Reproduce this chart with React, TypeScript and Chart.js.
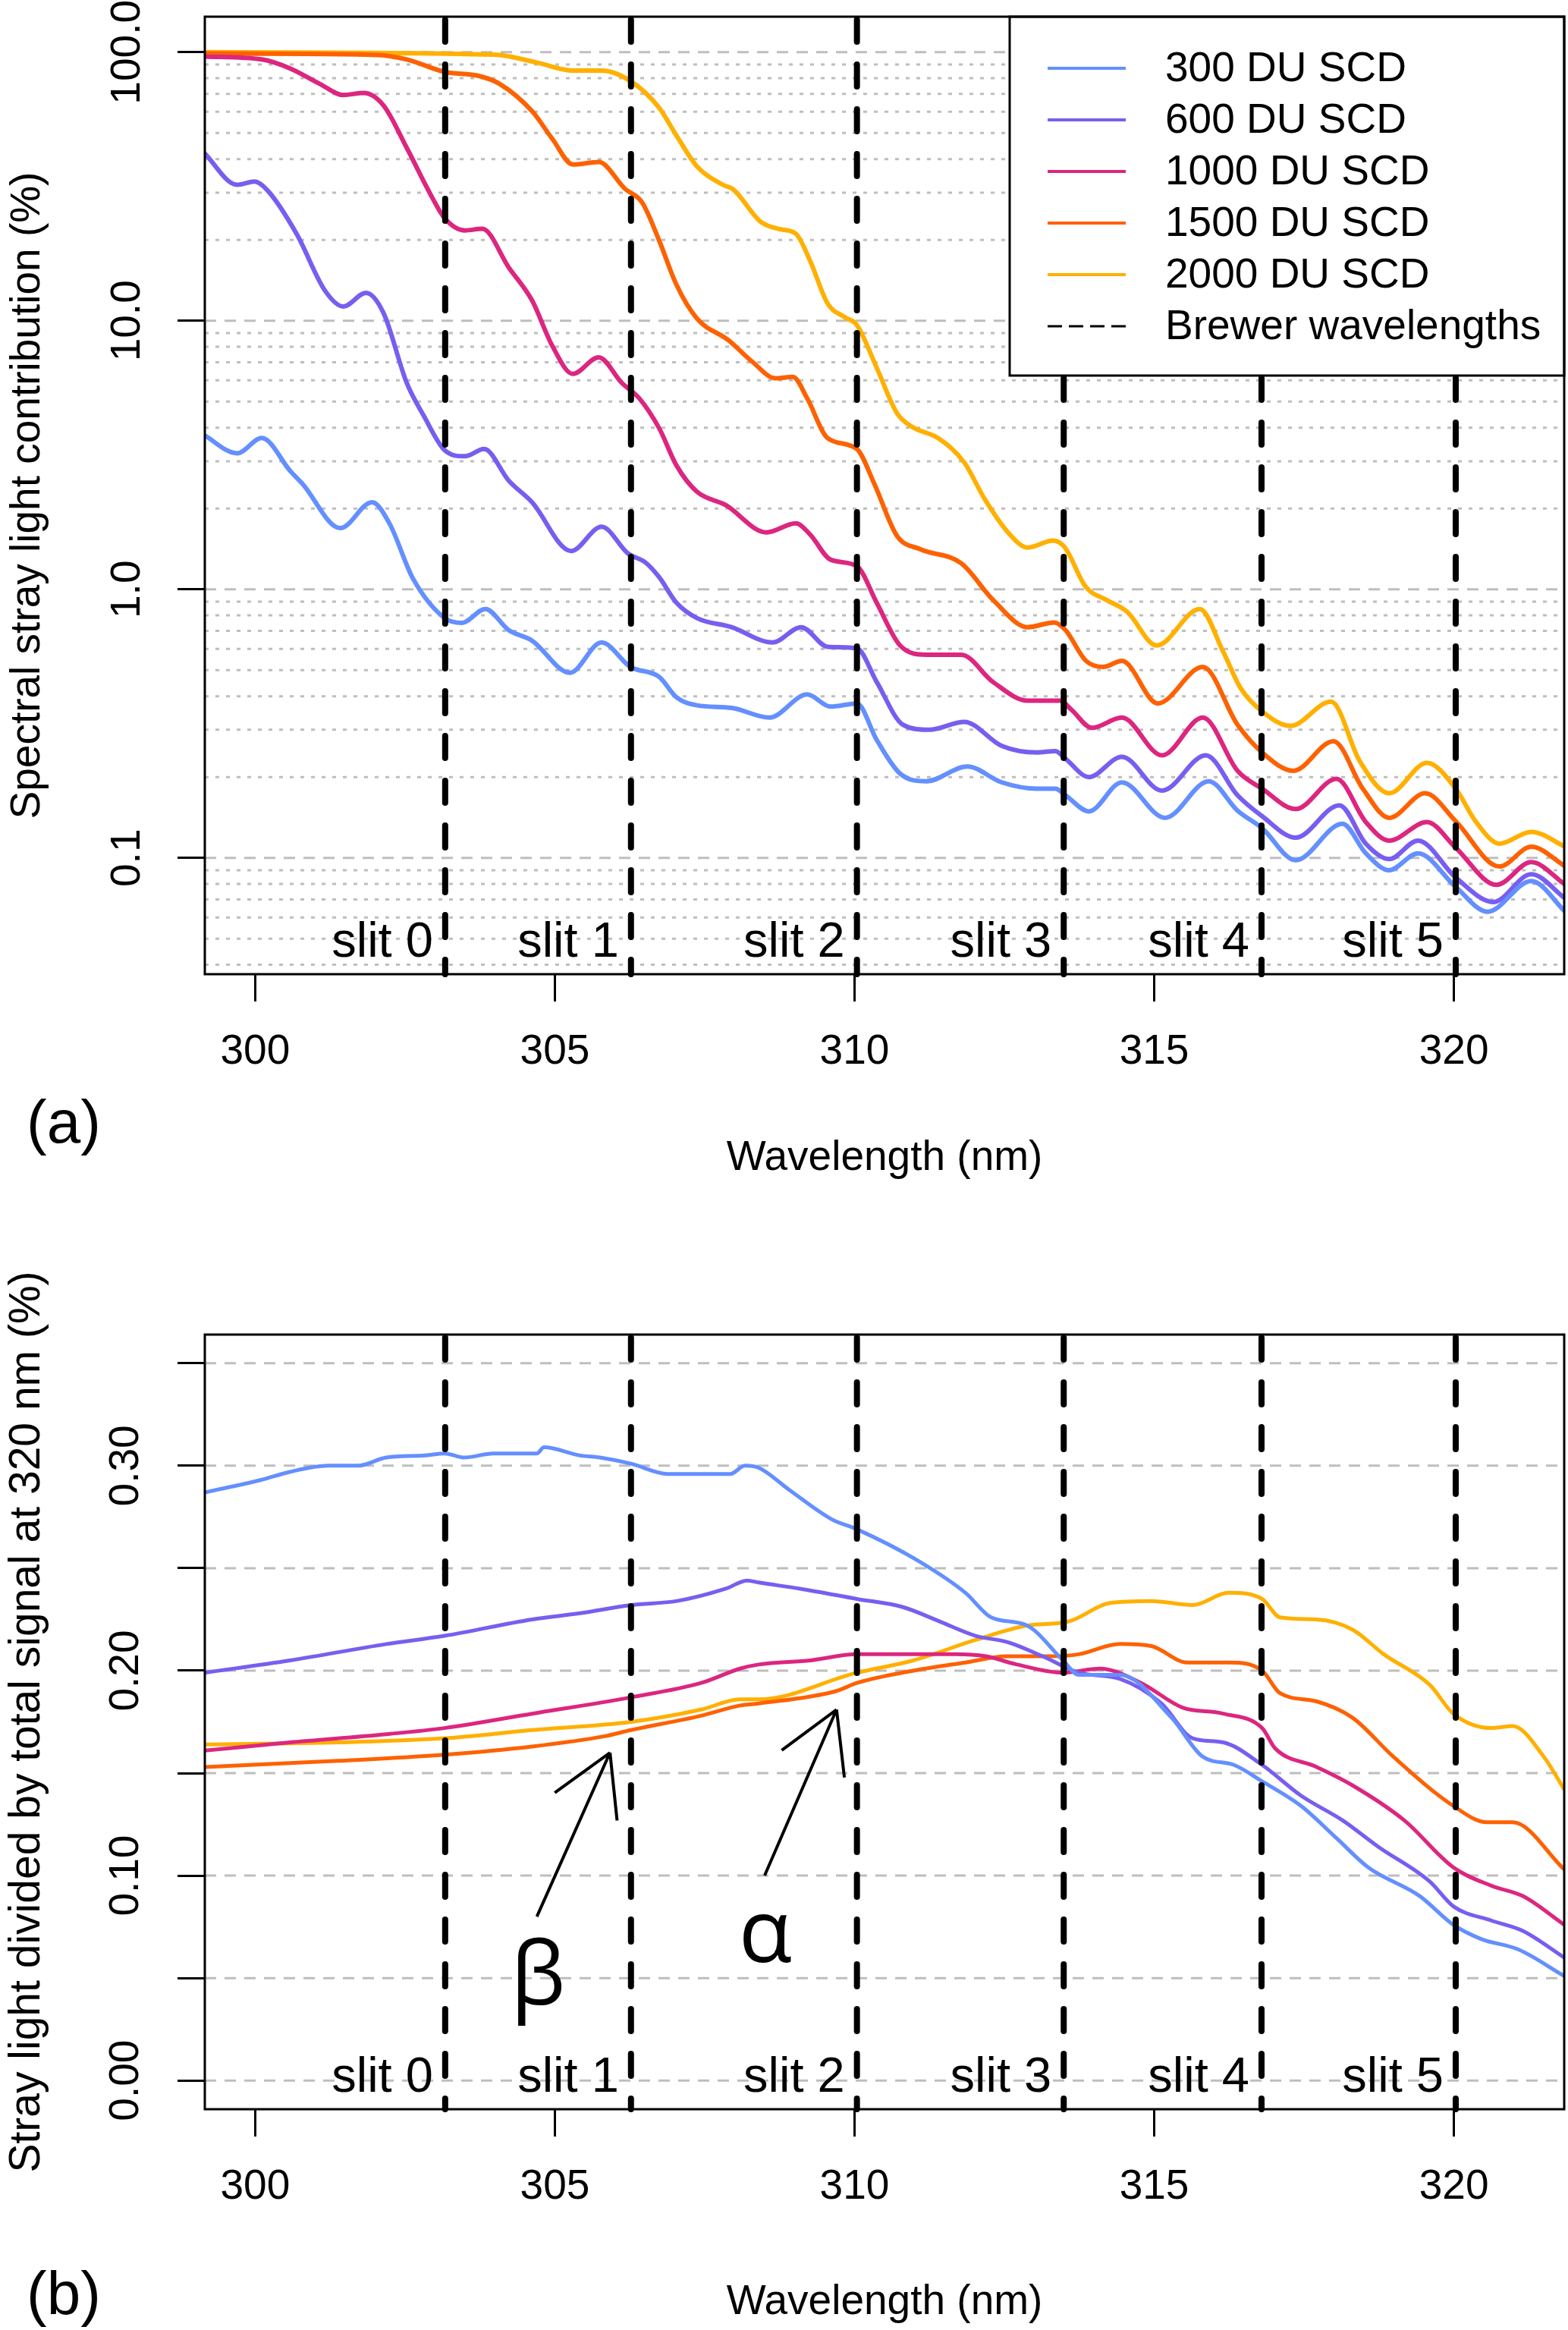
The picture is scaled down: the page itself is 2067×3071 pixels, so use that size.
import { useEffect, useRef } from "react"
import { Chart, registerables } from "chart.js"

Chart.register(...registerables)

const FONT = "'Liberation Sans', Arial, Helvetica, sans-serif"
const GREEK_FONT = "'Open Sans', 'DejaVu Sans', sans-serif"
const PAGE_W = 2067
const TOP_H = 1560
const BOTTOM_H = 1511

const seriesLabels = ["300 DU SCD", "600 DU SCD", "1000 DU SCD", "1500 DU SCD", "2000 DU SCD"]
const seriesColors = ["#648FFF", "#785EF0", "#DC267F", "#FE6100", "#FFB000"]

// Brewer slit wavelengths (nm)
const brewerWl = [303.17, 306.27, 310.04, 313.49, 316.79, 320.03]
const slitLabels = ["slit 0", "slit 1", "slit 2", "slit 3", "slit 4", "slit 5"]

const xRange = [299.16, 321.84]
const xTicks = [300, 305, 310, 315, 320]

// ---- panel (a): spectral stray light contribution (%) ----
const yRangeA = [0.0369, 135.6]
const yTicksA = [0.1, 1, 10, 100]
const yTickLabelsA = ["0.1", "1.0", "10.0", "100.0"]
const gridMajorA = [0.1, 1, 10, 100]
const gridMinorA = [
  0.04, 0.05, 0.06, 0.07, 0.08, 0.09,
  0.2, 0.3, 0.4, 0.5, 0.6, 0.7, 0.8, 0.9,
  2, 3, 4, 5, 6, 7, 8, 9,
  20, 30, 40, 50, 60, 70, 80, 90,
]

const wlA300 = [299.14, 299.7, 300.11, 300.59, 300.79, 301.42, 301.95, 302.24, 302.63, 303.16, 303.45, 303.84, 304.23, 304.62, 305.25, 305.78, 306.26, 306.74, 307.03, 307.37, 307.95, 308.58, 309.21, 309.6, 310.04, 310.37, 310.76, 311.2, 311.88, 312.46, 313.04, 313.35, 313.52, 313.91, 314.46, 315.18, 315.91, 316.39, 316.8, 317.36, 318.14, 318.53, 318.92, 319.4, 320.03, 320.56, 321.29, 321.86]
const valA300 = [3.76, 3.21, 3.66, 2.75, 2.47, 1.69, 2.11, 1.76, 1.1, 0.782, 0.75, 0.845, 0.705, 0.644, 0.489, 0.634, 0.514, 0.472, 0.396, 0.37, 0.362, 0.333, 0.406, 0.366, 0.376, 0.275, 0.206, 0.193, 0.219, 0.191, 0.181, 0.181, 0.171, 0.149, 0.191, 0.141, 0.193, 0.15, 0.129, 0.098, 0.134, 0.104, 0.09, 0.104, 0.078, 0.063, 0.082, 0.063]

const wlA600 = [299.14, 299.7, 299.99, 300.21, 300.69, 301.17, 301.47, 301.85, 302.14, 302.53, 302.82, 303.16, 303.5, 303.82, 304.23, 304.62, 305.27, 305.78, 306.22, 306.51, 306.74, 307.03, 307.37, 307.95, 308.63, 309.11, 309.55, 310.04, 310.37, 310.81, 311.25, 311.83, 312.46, 313.04, 313.35, 313.52, 313.91, 314.46, 315.13, 315.86, 316.39, 316.8, 317.36, 318.09, 318.53, 318.92, 319.4, 320.03, 320.66, 321.29, 321.86]
const valA600 = [42.4, 32.1, 33.0, 30.5, 21.1, 12.9, 11.3, 12.7, 10.7, 5.86, 4.4, 3.3, 3.13, 3.33, 2.54, 2.11, 1.39, 1.71, 1.36, 1.26, 1.11, 0.891, 0.782, 0.723, 0.634, 0.723, 0.611, 0.603, 0.452, 0.313, 0.3, 0.321, 0.261, 0.247, 0.25, 0.234, 0.2, 0.238, 0.178, 0.241, 0.171, 0.143, 0.119, 0.157, 0.113, 0.099, 0.116, 0.0845, 0.0685, 0.0869, 0.0705]

const wlA1000 = [299.14, 300.11, 300.59, 301.08, 301.47, 301.81, 302.14, 302.53, 302.92, 303.16, 303.5, 303.79, 304.23, 304.62, 304.96, 305.3, 305.73, 306.12, 306.41, 306.74, 307.03, 307.37, 307.85, 308.53, 309.02, 309.26, 309.6, 310.04, 310.37, 310.76, 311.2, 311.78, 312.31, 312.89, 313.43, 313.62, 313.96, 314.46, 315.13, 315.81, 316.39, 316.8, 317.36, 318.04, 318.53, 318.92, 319.55, 320.03, 320.71, 321.29, 321.86]
const valA1000 = [96.4, 94.0, 86.9, 76.2, 69.3, 70.5, 63.4, 44.0, 29.7, 24.1, 21.7, 22.0, 15.8, 11.9, 8.04, 6.34, 7.31, 5.86, 5.14, 3.98, 2.89, 2.31, 2.06, 1.63, 1.76, 1.6, 1.29, 1.22, 0.891, 0.618, 0.571, 0.571, 0.452, 0.385, 0.385, 0.356, 0.305, 0.333, 0.241, 0.333, 0.211, 0.181, 0.152, 0.197, 0.136, 0.116, 0.136, 0.109, 0.0794, 0.0964, 0.0794]

const wlA1500 = [299.14, 302.05, 302.53, 303.16, 303.74, 304.08, 304.62, 304.96, 305.3, 305.73, 306.17, 306.46, 306.74, 307.03, 307.37, 307.9, 308.29, 308.68, 308.97, 309.21, 309.55, 310.04, 310.33, 310.71, 311.1, 311.78, 312.31, 312.89, 313.33, 313.52, 313.86, 314.15, 314.46, 315.06, 315.81, 316.39, 316.8, 317.32, 317.99, 318.48, 318.92, 319.52, 320.03, 320.76, 321.29, 321.86]
const valA1500 = [98.9, 97.7, 94.0, 84.5, 81.5, 76.2, 60.3, 47.5, 38.2, 39.0, 31.0, 27.5, 19.9, 13.6, 10.2, 8.45, 7.05, 6.11, 6.18, 5.14, 3.66, 3.33, 2.47, 1.58, 1.41, 1.25, 0.914, 0.723, 0.753, 0.705, 0.542, 0.514, 0.542, 0.376, 0.514, 0.313, 0.247, 0.211, 0.272, 0.181, 0.141, 0.174, 0.137, 0.0929, 0.11, 0.0929]

const wlA2000 = [299.14, 303.99, 304.71, 305.3, 305.78, 306.26, 306.74, 307.03, 307.37, 307.8, 307.98, 308.43, 308.77, 309.02, 309.26, 309.55, 309.84, 310.04, 310.37, 310.71, 310.96, 311.39, 311.83, 312.17, 312.56, 312.89, 313.31, 313.5, 313.86, 314.2, 314.55, 315.04, 315.76, 316.15, 316.44, 316.8, 317.27, 317.95, 318.43, 318.92, 319.55, 320.03, 320.37, 320.76, 321.29, 321.86]
const valA2000 = [100, 98.0, 91.4, 85.5, 85.5, 78.2, 62.1, 48.9, 37.6, 32.1, 30.8, 23.4, 21.9, 21.1, 16.7, 11.6, 10.3, 9.64, 6.68, 4.52, 4.03, 3.66, 2.97, 2.17, 1.63, 1.43, 1.52, 1.44, 1.02, 0.914, 0.824, 0.618, 0.845, 0.586, 0.429, 0.351, 0.31, 0.382, 0.229, 0.174, 0.226, 0.181, 0.136, 0.113, 0.125, 0.11]

// ---- panel (b): stray light / total signal at 320 nm (%) ----
const yRangeB = [-0.014, 0.364]
const yTicksB = [0, 0.05, 0.1, 0.15, 0.2, 0.25, 0.3, 0.35]
const yTickLabelsB = ["0.00", "", "0.10", "", "0.20", "", "0.30", ""]
const gridB = [0, 0.05, 0.1, 0.15, 0.2, 0.25, 0.3, 0.35]

const wlB300 = [299.16, 300.09, 300.58, 301.22, 301.71, 302.19, 302.84, 303.16, 303.49, 303.97, 304.7, 304.82, 305.42, 305.75, 306.27, 306.88, 307.44, 307.93, 308.17, 308.4, 308.92, 309.61, 310.04, 310.98, 311.85, 312.28, 312.88, 313.48, 313.74, 314.43, 315.29, 315.81, 316.33, 316.8, 317.45, 318.05, 318.57, 319.43, 319.99, 320.46, 321.07, 321.84]
const valB300 = [0.287, 0.293, 0.297, 0.3, 0.3, 0.304, 0.305, 0.306, 0.304, 0.306, 0.306, 0.309, 0.305, 0.304, 0.301, 0.296, 0.296, 0.296, 0.3, 0.299, 0.288, 0.274, 0.269, 0.255, 0.238, 0.226, 0.222, 0.205, 0.198, 0.198, 0.177, 0.158, 0.154, 0.146, 0.134, 0.118, 0.104, 0.09, 0.076, 0.069, 0.064, 0.051]

const wlB600 = [299.16, 300.58, 302.19, 303.16, 304.62, 305.42, 306.27, 307.04, 307.85, 308.21, 308.4, 309.09, 310.04, 310.81, 311.42, 312.02, 312.54, 313.14, 313.74, 314.43, 315.12, 315.64, 316.15, 316.8, 317.45, 318.14, 318.74, 319.6, 319.99, 320.63, 321.15, 321.84]
const valB600 = [0.199, 0.205, 0.213, 0.217, 0.225, 0.228, 0.232, 0.234, 0.24, 0.244, 0.243, 0.24, 0.235, 0.231, 0.224, 0.217, 0.214, 0.207, 0.199, 0.196, 0.184, 0.167, 0.165, 0.154, 0.139, 0.127, 0.114, 0.097, 0.085, 0.078, 0.073, 0.06]

const wlB1000 = [299.16, 300.58, 302.19, 303.16, 304.62, 306.27, 307.44, 308.09, 308.4, 309.26, 310.04, 310.81, 311.67, 312.19, 312.71, 313.48, 314.09, 314.78, 315.47, 316.15, 316.8, 317.02, 317.71, 318.31, 319.17, 319.99, 320.63, 321.15, 321.84]
const valB1000 = [0.161, 0.165, 0.169, 0.172, 0.179, 0.187, 0.194, 0.201, 0.203, 0.205, 0.208, 0.208, 0.208, 0.207, 0.203, 0.199, 0.201, 0.194, 0.182, 0.179, 0.172, 0.162, 0.153, 0.144, 0.127, 0.104, 0.095, 0.09, 0.076]

const wlB1500 = [299.16, 301.39, 303.16, 304.62, 305.83, 306.27, 307.44, 308.09, 308.4, 309.69, 310.04, 310.98, 311.85, 312.54, 313.23, 313.74, 314.43, 314.95, 315.55, 316.24, 316.8, 317.1, 317.71, 318.31, 318.99, 319.99, 320.55, 320.98, 321.84]
const valB1500 = [0.153, 0.156, 0.159, 0.163, 0.168, 0.171, 0.178, 0.183, 0.184, 0.19, 0.194, 0.2, 0.204, 0.207, 0.207, 0.208, 0.213, 0.212, 0.204, 0.204, 0.2, 0.189, 0.185, 0.177, 0.158, 0.134, 0.126, 0.126, 0.103]

const wlB2000 = [299.16, 301.39, 303.16, 304.62, 306.27, 307.44, 308.09, 308.4, 310.04, 310.98, 312.02, 312.88, 313.57, 314.26, 314.95, 315.64, 316.24, 316.8, 317.1, 317.71, 318.31, 318.83, 319.6, 319.99, 320.63, 320.98, 321.5, 321.84]
const valB2000 = [0.164, 0.165, 0.167, 0.171, 0.175, 0.181, 0.186, 0.186, 0.199, 0.205, 0.215, 0.222, 0.224, 0.233, 0.234, 0.232, 0.238, 0.235, 0.226, 0.225, 0.22, 0.208, 0.193, 0.179, 0.172, 0.173, 0.158, 0.142]

// annotation arrows in panel (b): [x0, y0, x1, y1] in data units
const arrowsB = [
  [304.7, 0.08, 305.92, 0.16],
  [308.5, 0.1, 309.7, 0.181],
]
const greekB = ["β", "α"]
const greekPosB = [
  [304.72, 0.037],
  [308.51, 0.058],
]

type Decor = {
  gridMajor: number[]
  gridMinor: number[]
  slitY: number
  legend: boolean
  panelLabel: string
  panelLabelY: number
  arrows?: number[][]
  greek?: string[]
  greekPos?: number[][]
}

function decorPlugin(d: Decor) {
  return {
    id: "decor",
    beforeDatasetsDraw(chart: any) {
      const { ctx, chartArea: a } = chart
      const ys = chart.scales.y
      ctx.save()
      ctx.strokeStyle = "#BEBEBE"
      ctx.lineWidth = 3
      ctx.setLineDash([5, 9])
      for (const v of d.gridMinor) {
        const py = ys.getPixelForValue(v)
        ctx.beginPath()
        ctx.moveTo(a.left, py)
        ctx.lineTo(a.right, py)
        ctx.stroke()
      }
      ctx.setLineDash([15, 11])
      for (const v of d.gridMajor) {
        const py = ys.getPixelForValue(v)
        ctx.beginPath()
        ctx.moveTo(a.left, py)
        ctx.lineTo(a.right, py)
        ctx.stroke()
      }
      ctx.restore()
    },
    afterDatasetsDraw(chart: any) {
      const { ctx, chartArea: a } = chart
      const xs = chart.scales.x
      const ys = chart.scales.y
      ctx.save()

      // Brewer wavelengths
      ctx.strokeStyle = "#000"
      ctx.lineWidth = 8
      ctx.lineCap = "round"
      ctx.setLineDash([29, 30])
      for (const w of brewerWl) {
        const px = xs.getPixelForValue(w)
        ctx.beginPath()
        ctx.moveTo(px, a.top + 4)
        ctx.lineTo(px, a.bottom)
        ctx.stroke()
      }
      ctx.setLineDash([])
      ctx.lineCap = "butt"

      // slit labels
      ctx.fillStyle = "#000"
      ctx.font = `65px ${FONT}`
      ctx.textAlign = "right"
      ctx.textBaseline = "middle"
      brewerWl.forEach((w, i) => {
        ctx.fillText(slitLabels[i], xs.getPixelForValue(w) - 16, ys.getPixelForValue(d.slitY))
      })

      // arrows and greek letters
      if (d.arrows) {
        ctx.lineWidth = 4
        ctx.strokeStyle = "#000"
        for (const [x0, y0, x1, y1] of d.arrows) {
          const p0x = xs.getPixelForValue(x0)
          const p0y = ys.getPixelForValue(y0)
          const p1x = xs.getPixelForValue(x1)
          const p1y = ys.getPixelForValue(y1)
          const ang = Math.atan2(p1y - p0y, p1x - p0x)
          ctx.beginPath()
          ctx.moveTo(p0x, p0y)
          ctx.lineTo(p1x, p1y)
          for (const s of [-1, 1]) {
            const t = ang + Math.PI + (s * Math.PI) / 6
            ctx.moveTo(p1x, p1y)
            ctx.lineTo(p1x + 90 * Math.cos(t), p1y + 90 * Math.sin(t))
          }
          ctx.stroke()
        }
      }
      if (d.greek && d.greekPos) {
        ctx.font = `115px ${GREEK_FONT}`
        ctx.textAlign = "center"
        ctx.textBaseline = "alphabetic"
        d.greek.forEach((g, i) => {
          const [gx, gy] = d.greekPos![i]
          ctx.fillText(g, xs.getPixelForValue(gx), ys.getPixelForValue(gy))
        })
      }

      // legend box inside the plot, top right
      if (d.legend) {
        const lw = 731
        const lh = 473
        const lx = a.right - lw
        const ly = a.top
        ctx.fillStyle = "#fff"
        ctx.fillRect(lx, ly, lw, lh)
        ctx.strokeStyle = "#000"
        ctx.lineWidth = 3
        ctx.strokeRect(lx, ly, lw, lh)
        const rows = [...seriesLabels, "Brewer wavelengths"]
        ctx.font = `55px ${FONT}`
        ctx.textAlign = "left"
        ctx.textBaseline = "middle"
        rows.forEach((label, i) => {
          const ry = ly + 68 * (i + 1)
          ctx.beginPath()
          ctx.lineWidth = i < 5 ? 4 : 3
          ctx.strokeStyle = i < 5 ? seriesColors[i] : "#000"
          ctx.setLineDash(i < 5 ? [] : [19, 9])
          ctx.moveTo(lx + 50, ry)
          ctx.lineTo(lx + 153, ry)
          ctx.stroke()
          ctx.setLineDash([])
          ctx.fillStyle = "#000"
          ctx.fillText(label, lx + 205, ry + 2)
        })
      }

      // plot box
      ctx.strokeStyle = "#000"
      ctx.lineWidth = 3
      ctx.strokeRect(a.left, a.top, a.right - a.left, a.bottom - a.top)
      ctx.restore()
    },
    afterDraw(chart: any) {
      const { ctx } = chart
      ctx.save()
      ctx.fillStyle = "#000"
      ctx.font = `80px ${FONT}`
      ctx.textAlign = "center"
      ctx.textBaseline = "middle"
      ctx.fillText(d.panelLabel, 84, d.panelLabelY)
      ctx.restore()
    },
  }
}

function makeDatasets(wls: number[][], vals: number[][], width: number) {
  return seriesLabels.map((label, i) => ({
    label,
    data: wls[i].map((x, j) => ({ x, y: vals[i][j] })),
    borderColor: seriesColors[i],
    backgroundColor: seriesColors[i],
    borderWidth: width,
    pointRadius: 0,
    cubicInterpolationMode: "monotone" as const,
    clip: 0,
    fill: false,
  }))
}

type PanelSpec = {
  canvasH: number
  areaTop: number
  areaBottom: number
  logY: boolean
  yRange: number[]
  yTicks: number[]
  yTickLabels: string[]
  yTickPadding: number
  yTitle: string
  yTitleSize: number
  yTitlePad: number
  xTitlePad: number
  datasets: any[]
  decor: Decor
}

function buildConfig(p: PanelSpec): any {
  return {
    type: "line",
    data: { datasets: p.datasets },
    plugins: [decorPlugin(p.decor)],
    options: {
      responsive: false,
      animation: false,
      devicePixelRatio: 1,
      events: [],
      layout: { padding: { top: p.areaTop, right: 5, left: 0, bottom: 0 } },
      plugins: { legend: { display: false }, tooltip: { enabled: false } },
      scales: {
        x: {
          type: "linear",
          bounds: "data",
          min: xRange[0],
          max: xRange[1],
          afterBuildTicks: (s: any) => {
            s.ticks = xTicks.map((value) => ({ value }))
          },
          afterFit: (s: any) => {
            s.height = p.canvasH - p.areaBottom
            s.paddingLeft = 0
            s.paddingRight = 0
            s.paddingTop = 0
            s.paddingBottom = 0
          },
          grid: { drawOnChartArea: false, drawTicks: true, tickLength: 36, tickColor: "#000", tickWidth: 3 },
          border: { display: false },
          ticks: {
            font: { family: FONT, size: 55 },
            color: "#000",
            padding: 34,
            maxRotation: 0,
            autoSkip: false,
            callback: (v: any) => String(v),
          },
          title: {
            display: true,
            text: "Wavelength (nm)",
            font: { family: FONT, size: 55 },
            color: "#000",
            padding: { top: 0, bottom: p.xTitlePad },
          },
        },
        y: {
          type: p.logY ? "logarithmic" : "linear",
          bounds: "data",
          min: p.yRange[0],
          max: p.yRange[1],
          afterBuildTicks: (s: any) => {
            s.ticks = p.yTicks.map((value) => ({ value }))
          },
          afterFit: (s: any) => {
            s.width = 270
            s.paddingLeft = 0
            s.paddingRight = 0
            s.paddingTop = 0
            s.paddingBottom = 0
          },
          grid: { drawOnChartArea: false, drawTicks: true, tickLength: 36, tickColor: "#000", tickWidth: 3 },
          border: { display: false },
          ticks: {
            font: { family: FONT, size: 55 },
            color: "#000",
            padding: p.yTickPadding,
            minRotation: 90,
            maxRotation: 90,
            crossAlign: "center",
            autoSkip: false,
            callback: (_v: any, i: number) => p.yTickLabels[i],
          },
          title: {
            display: true,
            text: p.yTitle,
            font: { family: FONT, size: p.yTitleSize },
            color: "#000",
            padding: { top: p.yTitlePad, bottom: 0 },
          },
        },
      },
    },
  }
}

function ChartCanvas({ top, height, spec }: { top: number; height: number; spec: PanelSpec }) {
  const canvasRef = useRef<HTMLCanvasElement>(null)
  const chartInstance = useRef<Chart | null>(null)

  useEffect(() => {
    if (!canvasRef.current) return
    if (chartInstance.current) chartInstance.current.destroy()
    chartInstance.current = new Chart(canvasRef.current, buildConfig(spec))
    return () => {
      if (chartInstance.current) {
        chartInstance.current.destroy()
        chartInstance.current = null
      }
    }
  }, [])

  return (
    <canvas
      ref={canvasRef}
      width={PAGE_W}
      height={height}
      style={{ position: "absolute", left: 0, top, width: PAGE_W, height }}
    />
  )
}

export default function App() {
  const specA: PanelSpec = {
    canvasH: TOP_H,
    areaTop: 22,
    areaBottom: 1284,
    logY: true,
    yRange: yRangeA,
    yTicks: yTicksA,
    yTickLabels: yTickLabelsA,
    yTickPadding: -4,
    yTitle: "Spectral stray light contribution (%)",
    yTitleSize: 55,
    yTitlePad: 4,
    xTitlePad: 0,
    datasets: makeDatasets(
      [wlA300, wlA600, wlA1000, wlA1500, wlA2000],
      [valA300, valA600, valA1000, valA1500, valA2000],
      6
    ),
    decor: {
      gridMajor: gridMajorA,
      gridMinor: gridMinorA,
      slitY: 0.048,
      legend: true,
      panelLabel: "(a)",
      panelLabelY: 1484,
    },
  }

  const specB: PanelSpec = {
    canvasH: BOTTOM_H,
    areaTop: 1759 - TOP_H,
    areaBottom: 2780 - TOP_H,
    logY: false,
    yRange: yRangeB,
    yTicks: yTicksB,
    yTickLabels: yTickLabelsB,
    yTickPadding: 14,
    yTitle: "Stray light divided by total signal at 320 nm (%)",
    yTitleSize: 57,
    yTitlePad: 2,
    xTitlePad: 3,
    datasets: makeDatasets(
      [wlB300, wlB600, wlB1000, wlB1500, wlB2000],
      [valB300, valB600, valB1000, valB1500, valB2000],
      5
    ),
    decor: {
      gridMajor: gridB,
      gridMinor: [],
      slitY: 0.001,
      legend: false,
      panelLabel: "(b)",
      panelLabelY: 3028 - TOP_H,
      arrows: arrowsB,
      greek: greekB,
      greekPos: greekPosB,
    },
  }

  return (
    <div
      style={{
        position: "absolute",
        left: 0,
        top: 0,
        width: PAGE_W,
        height: TOP_H + BOTTOM_H,
        background: "#fff",
        overflow: "hidden",
      }}
    >
      <ChartCanvas top={0} height={TOP_H} spec={specA} />
      <ChartCanvas top={TOP_H} height={BOTTOM_H} spec={specB} />
    </div>
  )
}
